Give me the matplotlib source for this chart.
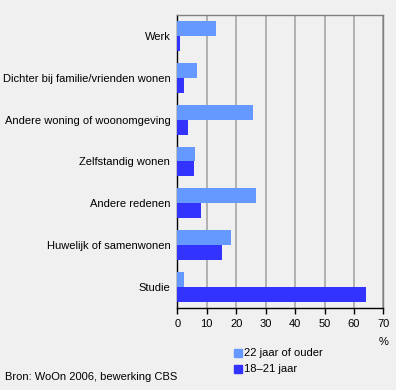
import numpy as np
import matplotlib
matplotlib.use("Agg")
import matplotlib.pyplot as plt
from matplotlib.patches import Rectangle

# data
categories = ["Werk", "Dichter bij familie/vrienden wonen", "Andere woning of woonomgeving",
              "Zelfstandig wonen", "Andere redenen", "Huwelijk of samenwonen", "Studie"]
ouder = [13.1, 6.7, 25.7, 6.0, 26.7, 18.3, 2.3]
jong = [0.9, 2.3, 3.6, 5.7, 8.0, 15.2, 64.1]
series_labels = ["22 jaar of ouder", "18\u201321 jaar"]
xticks = [0, 10, 20, 30, 40, 50, 60, 70]

bg = "#f0f0f0"
c_light = "#6699ff"
c_dark = "#3333ff"

plt.rcParams["font.family"] = ["Liberation Sans", "DejaVu Sans"]
plt.rcParams["font.size"] = 8

fig = plt.figure(figsize=(3.96, 3.90), dpi=100, facecolor=bg)
ax = fig.add_axes([0.4477, 0.2103, 0.5205, 0.7512], facecolor=bg)

y = np.arange(len(categories))
h = 0.357
ax.barh(y - h / 2, ouder, height=h, color=c_light, zorder=3)
ax.barh(y + h / 2, jong, height=h, color=c_dark, zorder=3)

ax.set_xlim(0, 70)
ax.set_ylim(len(categories) - 0.5, -0.5)
ax.set_xticks(xticks)
ax.set_yticks(y)
ax.set_yticklabels(categories)
ax.tick_params(axis="y", length=0, pad=5)
ax.tick_params(axis="x", length=4, width=1, color="black", pad=4)
ax.xaxis.grid(True, color="#a6a6a6", linewidth=1.2, zorder=0)

ax.spines["left"].set_color("black")
ax.spines["bottom"].set_color("black")
ax.spines["top"].set_color("#808080")
ax.spines["right"].set_color("#808080")
for s in ax.spines.values():
    s.set_linewidth(1)

fig.text(0.968, 0.123, "%", ha="center", va="center")

# legend
lx, ly = 234 / 396, 1 - 353 / 390
for i, (lab, col) in enumerate(zip(series_labels, [c_light, c_dark])):
    yy = ly - i * 15.5 / 390
    fig.patches.append(Rectangle((lx, yy - 4 / 390), 8 / 396, 8 / 390,
                                 transform=fig.transFigure, color=col))
    fig.text(lx + 10 / 396, yy, lab, ha="left", va="center")

fig.text(5 / 396, 1 - 377 / 390, "Bron: WoOn 2006, bewerking CBS", ha="left", va="center")

fig.savefig("out.png", dpi=100, facecolor=bg)
